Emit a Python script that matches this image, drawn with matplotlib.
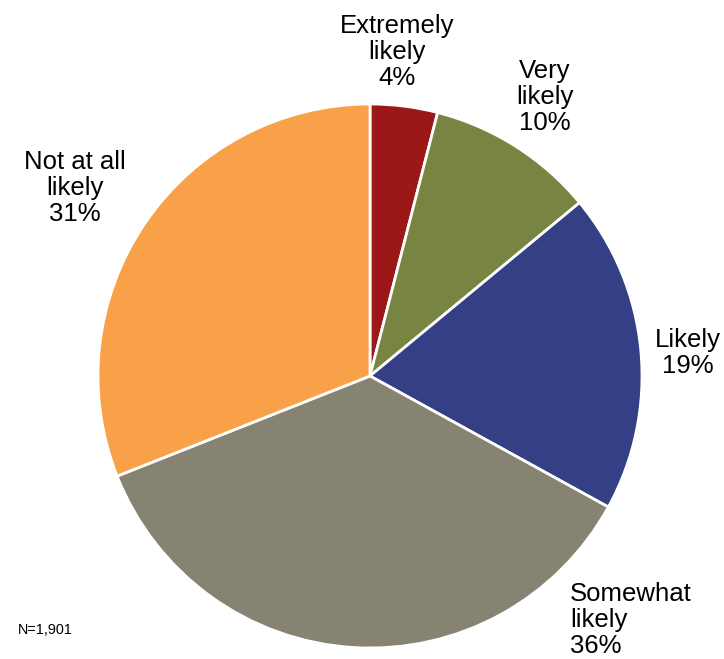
import matplotlib
matplotlib.use("Agg")
import matplotlib.pyplot as plt

plt.rcParams['font.family'] = ['Liberation Sans', 'DejaVu Sans']

categories = ['Extremely\nlikely', 'Very\nlikely', 'Likely', 'Somewhat\nlikely', 'Not at all\nlikely']
values = [4, 10, 19, 36, 31]
colors = ['#9B1718', '#788442', '#353F86', '#868372', '#F9A148']

# label anchor spots (in pie-radius units) and alignment
label_pos = [(0.10, 1.19), (0.643, 1.026), (1.169, 0.085), (0.735, -0.897), (-1.085, 0.691)]
label_ha = ['center', 'center', 'center', 'left', 'center']

W, H = 724, 659
cx, cy, R = 370, 283, 272  # pie centre/radius in pixels (y up)

fig = plt.figure(figsize=(W / 100, H / 100), dpi=100)
ax = fig.add_axes([0, 0, 1, 1])
ax.pie(values, colors=colors, startangle=90, counterclock=False,
       wedgeprops=dict(edgecolor='white', linewidth=2))
ax.set_xlim(-cx / R, (W - cx) / R)
ax.set_ylim(-cy / R, (H - cy) / R)
ax.axis('off')

for cat, v, (x, y), ha in zip(categories, values, label_pos, label_ha):
    ax.text(x, y, f'{cat}\n{v}%', ha=ha, va='center', multialignment=ha,
            fontsize=18.5, linespacing=1.1, color='black')

fig.text(18 / W, 1 - 630 / H, 'N=1,901', fontsize=10.4, ha='left', va='center')

fig.savefig('out.png', dpi=100)
